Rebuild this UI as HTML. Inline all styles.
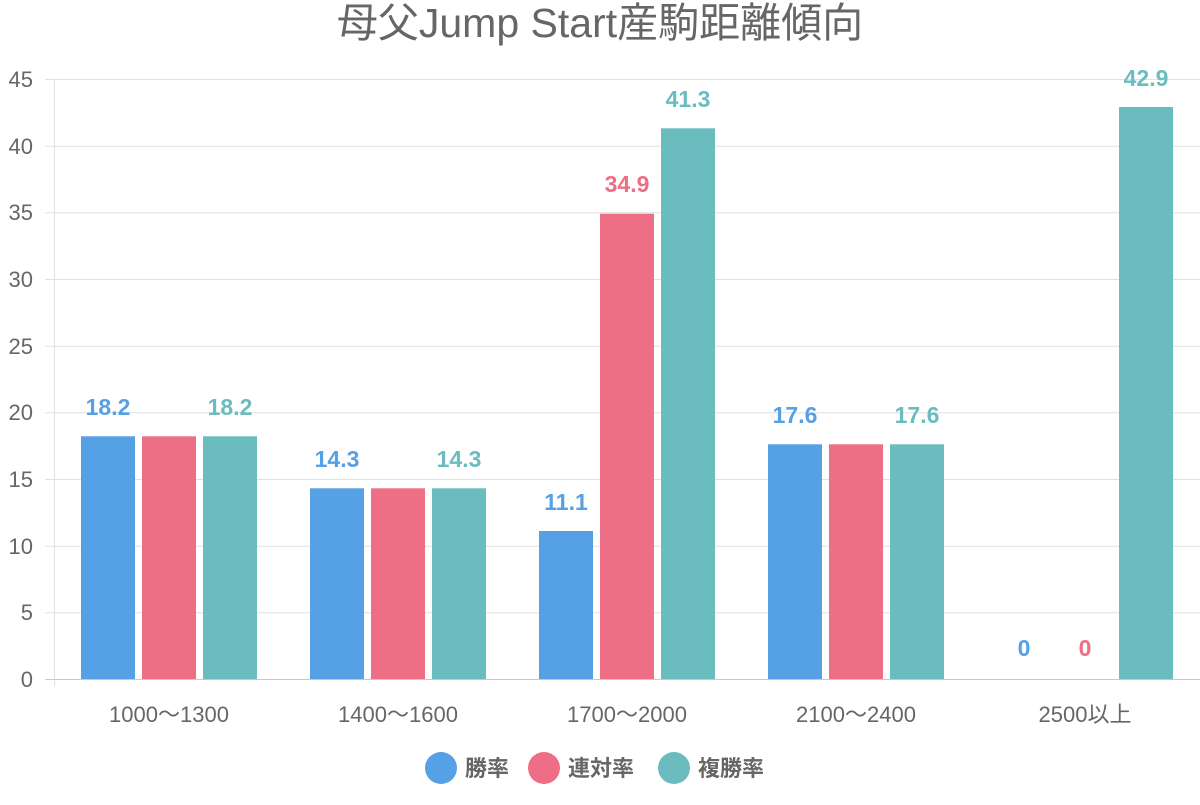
<!DOCTYPE html>
<html><head><meta charset="utf-8"><style>
body{margin:0;background:#fff;}
svg text{font-family:"Liberation Sans","Noto Sans CJK JP",sans-serif;}
</style></head><body>
<svg width="1200" height="800" xmlns="http://www.w3.org/2000/svg">
<text x="600" y="37" text-anchor="middle" font-size="41" fill="#666">母父Jump Start産駒距離傾向</text>
<g stroke="#e0e0e0" stroke-width="1">
<line x1="45" y1="79.5" x2="1200" y2="79.5"/>
<line x1="45" y1="146.2" x2="1200" y2="146.2"/>
<line x1="45" y1="212.8" x2="1200" y2="212.8"/>
<line x1="45" y1="279.5" x2="1200" y2="279.5"/>
<line x1="45" y1="346.2" x2="1200" y2="346.2"/>
<line x1="45" y1="412.8" x2="1200" y2="412.8"/>
<line x1="45" y1="479.5" x2="1200" y2="479.5"/>
<line x1="45" y1="546.2" x2="1200" y2="546.2"/>
<line x1="45" y1="612.8" x2="1200" y2="612.8"/>
<line x1="54.5" y1="79" x2="54.5" y2="686"/>
</g>
<line x1="45" y1="679.5" x2="1200" y2="679.5" stroke="#c8c8c8"/>
<g font-size="22" fill="#666" text-anchor="end">
<text x="33" y="87">45</text><text x="33" y="154">40</text><text x="33" y="220">35</text>
<text x="33" y="287">30</text><text x="33" y="354">25</text><text x="33" y="420">20</text>
<text x="33" y="487">15</text><text x="33" y="554">10</text><text x="33" y="620">5</text>
<text x="33" y="687">0</text>
</g>
<g font-size="22" fill="#666" text-anchor="middle">
<text x="169" y="722">1000〜1300</text><text x="398" y="722">1400〜1600</text>
<text x="627" y="722">1700〜2000</text><text x="856" y="722">2100〜2400</text>
<text x="1085" y="722">2500以上</text>
</g>
<g>
<rect x="81" y="436.3" width="54" height="242.7" fill="#56a0e5"/>
<rect x="142" y="436.3" width="54" height="242.7" fill="#ed6e85"/>
<rect x="203" y="436.3" width="54" height="242.7" fill="#6bbcbf"/>
<rect x="310" y="488.3" width="54" height="190.7" fill="#56a0e5"/>
<rect x="371" y="488.3" width="54" height="190.7" fill="#ed6e85"/>
<rect x="432" y="488.3" width="54" height="190.7" fill="#6bbcbf"/>
<rect x="539" y="531" width="54" height="148" fill="#56a0e5"/>
<rect x="600" y="213.7" width="54" height="465.3" fill="#ed6e85"/>
<rect x="661" y="128.3" width="54" height="550.7" fill="#6bbcbf"/>
<rect x="768" y="444.3" width="54" height="234.7" fill="#56a0e5"/>
<rect x="829" y="444.3" width="54" height="234.7" fill="#ed6e85"/>
<rect x="890" y="444.3" width="54" height="234.7" fill="#6bbcbf"/>
<rect x="1119" y="107" width="54" height="572" fill="#6bbcbf"/>
</g>
<g font-size="23" font-weight="bold" text-anchor="middle">
<text x="108" y="415" fill="#56a0e5">18.2</text>
<text x="230" y="415" fill="#6bbcbf">18.2</text>
<text x="337" y="467" fill="#56a0e5">14.3</text>
<text x="459" y="467" fill="#6bbcbf">14.3</text>
<text x="566" y="510" fill="#56a0e5">11.1</text>
<text x="627" y="192" fill="#ed6e85">34.9</text>
<text x="688" y="107" fill="#6bbcbf">41.3</text>
<text x="795" y="423" fill="#56a0e5">17.6</text>
<text x="917" y="423" fill="#6bbcbf">17.6</text>
<text x="1024" y="656" fill="#56a0e5">0</text>
<text x="1085" y="656" fill="#ed6e85">0</text>
<text x="1146" y="86" fill="#6bbcbf">42.9</text>
</g>
<g font-size="22" font-weight="bold" fill="#666">
<circle cx="441" cy="768" r="16" fill="#56a0e5"/><text x="465" y="776">勝率</text>
<circle cx="544" cy="768" r="16" fill="#ed6e85"/><text x="568" y="776">連対率</text>
<circle cx="674" cy="768" r="16" fill="#6bbcbf"/><text x="698" y="776">複勝率</text>
</g>
</svg>
</body></html>
